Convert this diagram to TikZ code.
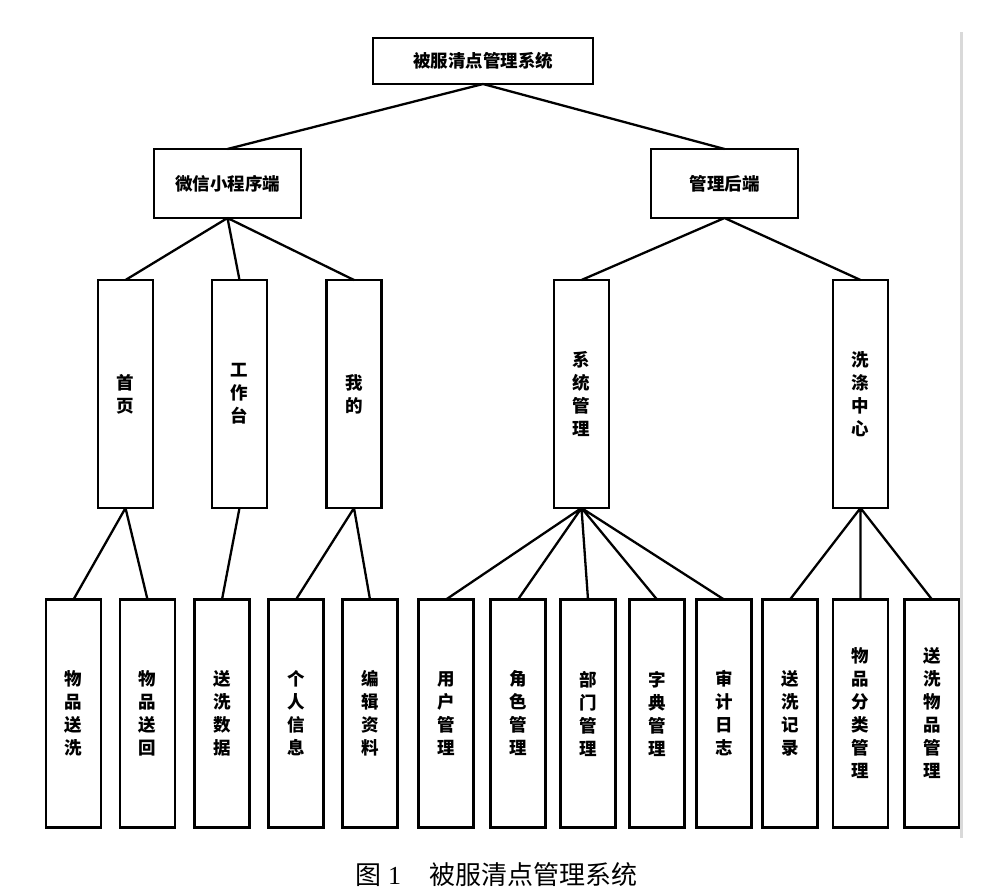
\documentclass[tikz,border=0pt]{standalone}
\usepackage{fontspec}
\setmainfont{Noto Sans CJK SC}
\newfontfamily\numfont{Liberation Serif}
\usepackage{tikz}
\usetikzlibrary{positioning}
\tikzset{
x=1pt, y=-1pt, % one unit is one pixel of the page
every node/.style={inner sep=0pt, outer sep=0pt},
module/.style={draw, line width=2.7pt, font=\bfseries\fontsize{17.5}{23}\selectfont, align=center}, % sets the look of each box
widebox/.style={module, minimum height=46pt}, % boxes with horizontal text
tallbox/.style={module, minimum width=55pt, minimum height=228pt}, % boxes with stacked text
link/.style={line width=2.3pt}, % the lines joining the boxes
}

\begin{document}
\begin{tikzpicture}
    \useasboundingbox (0,0) rectangle (1000,894);
    % top level
    \node[widebox, minimum width=220pt] (sys) at (483,61) {被服清点管理系统};
    % second level
    \node[widebox, minimum width=147pt, minimum height=69pt] (wx) at (227.5,183.5) {微信小程序端};
    \node[widebox, minimum width=147pt, minimum height=69pt] (admin) at (724.5,183.5) {管理后端};
    % third level
    \node[tallbox] (home) at (125.5,394) {首\\页};
    \node[tallbox] (desk) at (239.5,394) {工\\作\\台};
    \node[tallbox] (mine) at (354,394) {我\\的};
    \node[tallbox] (sysm) at (581.5,394) {系\\统\\管\\理};
    \node[tallbox] (wash) at (860.5,394) {洗\\涤\\中\\心};
    % fourth level
    \node[tallbox] (send) at (73.5,713.5) {物\\品\\送\\洗};
    \node[tallbox] (back) at (147.5,713.5) {物\\品\\送\\回};
    \node[tallbox] (data) at (222,713.5) {送\\洗\\数\\据};
    \node[tallbox] (info) at (296,713.5) {个\\人\\信\\息};
    \node[tallbox] (edit) at (370,713.5) {编\\辑\\资\\料};
    \node[tallbox] (user) at (446,713.5) {用\\户\\管\\理};
    \node[tallbox] (role) at (518,713.5) {角\\色\\管\\理};
    \node[tallbox] (dept) at (588,713.5) {部\\门\\管\\理};
    \node[tallbox] (dict) at (657,713.5) {字\\典\\管\\理};
    \node[tallbox] (audit) at (724,713.5) {审\\计\\日\\志};
    \node[tallbox] (rec) at (790,713.5) {送\\洗\\记\\录};
    \node[tallbox] (cat) at (860.5,713.5) {物\\品\\分\\类\\管\\理};
    \node[tallbox] (item) at (932,713.5) {送\\洗\\物\\品\\管\\理};
    \draw[link]
    (sys.south) -- (wx.north)
    (sys.south) -- (admin.north)
    (wx.south) -- (home.north)
    (wx.south) -- (desk.north)
    (wx.south) -- (mine.north)
    (admin.south) -- (sysm.north)
    (admin.south) -- (wash.north)
    (home.south) -- (send.north)
    (home.south) -- (back.north)
    (desk.south) -- (data.north)
    (mine.south) -- (info.north)
    (mine.south) -- (edit.north)
    (sysm.south) -- (user.north)
    (sysm.south) -- (role.north)
    (sysm.south) -- (dept.north)
    (sysm.south) -- (dict.north)
    (sysm.south) -- (audit.north)
    (wash.south) -- (rec.north)
    (wash.south) -- (cat.north)
    (wash.south) -- (item.north);
    % page edge on the right
    \coordinate (edgetop) at (961.5,32);
    \coordinate (edgebot) at (961.5,838);
    \draw[gray!30, line width=2.5pt] (edgetop) -- (edgebot);
    % caption
    \node[anchor=base west, font=\fontsize{26}{30}\selectfont] (caption) at (355,884) {图\hspace{7pt}{\numfont 1}\hspace{28pt}被服清点管理系统};
\end{tikzpicture}
\end{document}
